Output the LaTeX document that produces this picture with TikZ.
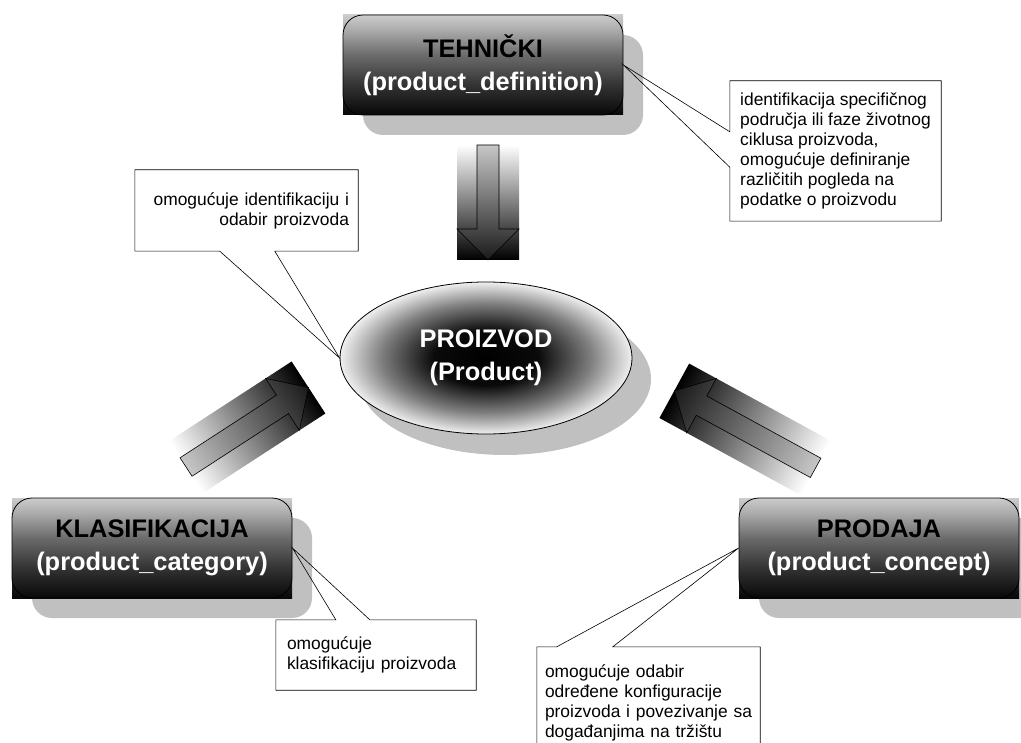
\documentclass[tikz,border=0pt]{standalone}
\usepackage{fontspec}
\setmainfont{Liberation Sans}
\usetikzlibrary{shapes.geometric,calc}
\definecolor{shadowgray}{HTML}{C0C0C0}
\pgfdeclareverticalshading{boxshade}{100bp}{color(0bp)=(black); color(25bp)=(black!97); color(40bp)=(black!80); color(55bp)=(black!58); color(68bp)=(black!32); color(75bp)=(black!20); color(100bp)=(black!20)}
\pgfdeclareradialshading{ellshade}{\pgfpoint{0bp}{0bp}}{color(0bp)=(black); color(9bp)=(black!96); color(18bp)=(black!50); color(25bp)=(black!6); color(50bp)=(black!6)}
% #1,#2 tip position, #3 direction angle, #4 length
\newcommand{\bigArrow}[4]{%
  \begin{scope}[transform canvas={shift={(#1,#2)},rotate=#3}]
    \shade[left color=white, right color=black] (-#4,-31) rectangle (0,31);
    \shade[draw=black, line width=0.6pt, left color=black!22, right color=black!90]
      (-#4,-11) -- (-31,-11) -- (-31,-31) -- (0,0) -- (-31,31) -- (-31,11) -- (-#4,11) -- cycle;
  \end{scope}}
\begin{document}
\begin{tikzpicture}[x=1pt,y=-1pt,
  titlebox/.style={draw=black, line width=0.8pt, rounded corners=20pt,
    minimum width=280pt, minimum height=100pt, inner sep=0pt, align=center,
    font=\fontsize{25.4}{33}\selectfont\bfseries},
  boxfill/.style={shading=boxshade},
  boxshadow/.style={fill=shadowgray, rounded corners=20pt},
  note/.style={inner ysep=0pt, font=\fontsize{17.4}{20}\selectfont},
  calloutline/.style={draw=black, line width=0.6pt, line join=miter}]
\useasboundingbox (0,0) rectangle (1021,743);
\clip (0,0) rectangle (1021,743);

% ---- title boxes ----
\fill[boxshadow] (363,35) rectangle (643,135);
\shade[boxfill] (343,15) rectangle (623,115);
\node[titlebox] (teh) at (483,65) {TEHNIČKI\\\textcolor{white}{(product\_definition)}};

\fill[boxshadow] (32,518) rectangle (312,618);
\shade[boxfill] (12,498) rectangle (292,598);
\node[titlebox] (kla) at (152,548) {KLASIFIKACIJA\\\textcolor{white}{(product\_category)}};

\fill[boxshadow] (759,518) rectangle (1039,618);
\shade[boxfill] (739,498) rectangle (1019,598);
\node[titlebox] (prd) at (879,548) {PRODAJA\\\textcolor{white}{(product\_concept)}};

% ---- central ellipse ----
\fill[shadowgray] (505,379) ellipse [x radius=146pt, y radius=76pt];
\node[ellipse, draw=black, line width=0.8pt, minimum width=292pt, minimum height=152pt,
  inner sep=0pt, shading=ellshade, align=center, text=white,
  font=\fontsize{25.4}{33}\selectfont\bfseries] (prod) at (486,358) {PROIZVOD\\(Product)};

% ---- block arrows ----
\bigArrow{488}{260}{-90}{115}
\bigArrow{308.5}{387.5}{33}{146}
\bigArrow{674.3}{390.8}{151.4}{161}

% ---- callouts ----
\node[note, minimum width=211pt, minimum height=140pt, inner xsep=0pt, align=left]
  (c1) at (835.5,151) {identifikacija specifičnog\\područja ili faze životnog\\ciklusa proizvoda,\\omogućuje definiranje\\različitih pogleda na\\podatke o proizvodu};
\draw[calloutline] (c1.north west) -- (c1.north east) -- (c1.south east) -- (c1.south west)
  -- ($(c1.south west)+(0,-54)$) -- (teh.east) -- ($(c1.north west)+(0,51)$) -- cycle;

\node[note, minimum width=223pt, minimum height=81pt, text width=205pt, inner xsep=9pt, align=right]
  (c2) at (246.5,210.5) {omogućuje identifikaciju i\\odabir proizvoda};
\draw[calloutline] (c2.south west) -- (c2.north west) -- (c2.north east) -- (c2.south east)
  -- ($(c2.south west)+(140,0)$) -- (prod.west) -- ($(c2.south west)+(85,0)$) -- cycle;

\node[note, minimum width=200pt, minimum height=70pt, text width=178pt, inner xsep=11pt, align=left]
  (c3) at (376,655) {omogućuje\\klasifikaciju proizvoda};
\draw[calloutline] (c3.north west) -- ($(c3.north west)+(60,0)$) -- (kla.east)
  -- ($(c3.north west)+(94,0)$) -- (c3.north east) -- (c3.south east) -- (c3.south west) -- cycle;

\node[note, minimum width=223pt, minimum height=111pt, text width=207pt, inner xsep=8pt, align=left]
  (c4) at (648.5,702.5) {omogućuje odabir\\određene konfiguracije\\proizvoda i povezivanje sa\\događanjima na tržištu};
\draw[calloutline] (c4.north west) -- ($(c4.north west)+(20,0)$) -- (prd.west)
  -- ($(c4.north west)+(76,0)$) -- (c4.north east) -- (c4.south east) -- (c4.south west) -- cycle;
\end{tikzpicture}
\end{document}
